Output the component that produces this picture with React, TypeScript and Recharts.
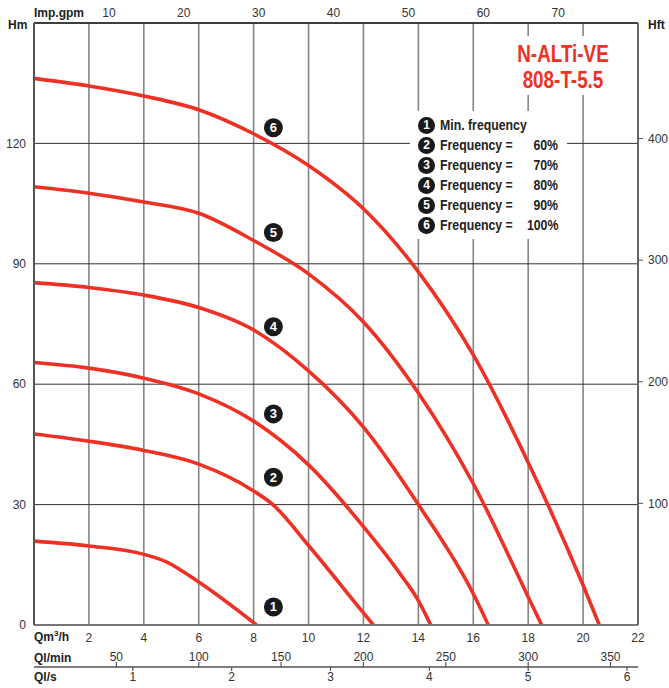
import { LineChart, Line, XAxis, YAxis, CartesianGrid, ReferenceDot } from 'recharts'

// flow (m3/h) and head (m)
const FLOW_1 = [0, 2, 4, 4.8, 6, 8.11]
const HEAD_1 = [20.9, 19.7, 17.6, 15.8, 10.7, 0]
const FLOW_2 = [0, 2, 4, 6, 8, 8.7, 10, 12, 12.36]
const HEAD_2 = [47.6, 45.8, 43.5, 40.1, 33.4, 30, 19.8, 3, 0]
const FLOW_3 = [0, 2, 4, 6, 8, 10, 12, 13.33, 14, 14.45]
const HEAD_3 = [65.4, 64, 61.5, 57.6, 50.8, 39.9, 24.5, 12.8, 6.1, 0]
const FLOW_4 = [0, 2, 4, 6, 8, 10, 12, 14, 16, 16.55]
const HEAD_4 = [85.3, 84.1, 82.2, 79.1, 73.5, 63.3, 49.3, 30, 7.8, 0]
const FLOW_5 = [0, 2, 4, 6, 8, 10, 12, 14, 16, 18, 18.49]
const HEAD_5 = [109.2, 107.6, 105.4, 102.6, 95.8, 87.5, 75.5, 57.8, 35.2, 7, 0]
const FLOW_6 = [0, 2, 4, 6, 8, 10, 12, 14, 16, 18, 20, 20.59]
const HEAD_6 = [136.2, 134.3, 131.8, 128.4, 122.4, 114.5, 103.7, 88, 67.3, 40.5, 9.9, 0]

const CURVES = [
  [FLOW_1, HEAD_1],
  [FLOW_2, HEAD_2],
  [FLOW_3, HEAD_3],
  [FLOW_4, HEAD_4],
  [FLOW_5, HEAD_5],
  [FLOW_6, HEAD_6],
]

// curve number badges
const BADGE_FLOW = 8.72
const BADGE_HEAD = [4.5, 36.8, 52.6, 74.3, 97.8, 123.9]

const LEGEND_LABELS = ['Min. frequency', 'Frequency =', 'Frequency =', 'Frequency =', 'Frequency =', 'Frequency =']
const LEGEND_PCT = ['', '60%', '70%', '80%', '90%', '100%']

const M3H_TICKS = [2, 4, 6, 8, 10, 12, 14, 16, 18, 20, 22]
const HM_TICKS = [0, 30, 60, 90, 120]
const HFT_TICKS = [100, 200, 300, 400]
const GPM_TICKS = [10, 20, 30, 40, 50, 60, 70]
const LMIN_TICKS = [50, 100, 150, 200, 250, 300, 350]
const LS_TICKS = [1, 2, 3, 4, 5, 6]

const Q_MAX = 22
const H_MAX = 150
const HFT_MAX = 495
const GPM_PER_M3H = 3.6662
const LMIN_PER_M3H = 1000 / 60
const LS_PER_M3H = 1 / 3.6

const RED = '#ee3124'
const SANS = '"Liberation Sans", Arial, sans-serif'
const tickStyle = { fontSize: 12, fontFamily: SANS, fill: '#333' }
const condensed = (origin: string) => ({ display: 'inline-block', transform: 'scaleX(0.82)', transformOrigin: origin })

const LminTick = (props: any) => {
  const { x, y, payload } = props
  return (
    <g>
      <text x={x} y={y + 10} textAnchor="middle" dominantBaseline="central" style={tickStyle}>
        {Math.round(payload.value * LMIN_PER_M3H)}
      </text>
      <line x1={x} x2={x} y1={y + 15} y2={y + 20} stroke="#555" strokeWidth={1.2} />
    </g>
  )
}

const LsTick = (props: any) => {
  const { x, y, payload } = props
  return (
    <g>
      <line x1={x} x2={x} y1={y} y2={y + 4} stroke="#555" strokeWidth={1.2} />
      <text x={x} y={y + 10} textAnchor="middle" dominantBaseline="central" style={tickStyle}>
        {Math.round(payload.value * LS_PER_M3H)}
      </text>
    </g>
  )
}

const Badge = (n: number) => (props: any) => (
  <g>
    <circle cx={props.cx} cy={props.cy} r={9.5} fill="#1a1a1a" />
    <text
      x={props.cx}
      y={props.cy}
      textAnchor="middle"
      dominantBaseline="central"
      style={{ fontSize: 13, fontWeight: 700, fontFamily: SANS, fill: '#fff' }}
    >
      {n}
    </text>
  </g>
)

const title = (text: any, left: number, top: number) => (
  <div
    style={{
      position: 'absolute', left, top, lineHeight: '14px', fontSize: 12,
      fontWeight: 700, fontFamily: SANS, color: '#222', whiteSpace: 'nowrap',
    }}
  >
    {text}
  </div>
)

export default function App() {
  const series = CURVES.map(([q, h]) => q.map((v, i) => ({ q: v, h: h[i] })))

  return (
    <div style={{ position: 'absolute', left: 0, top: 0, width: 669, height: 688, background: '#fff' }}>
      <LineChart width={669} height={688} data={series[5]} margin={{ top: 0, right: 0, bottom: 0, left: 0 }}>
        <CartesianGrid horizontal={false} stroke="#858585" strokeWidth={1.6} />
        <CartesianGrid vertical={false} stroke="#333" strokeWidth={1} />
        <XAxis
          type="number"
          dataKey="q"
          domain={[0, Q_MAX]}
          ticks={M3H_TICKS}
          allowDataOverflow
          height={22}
          tickLine={false}
          tickSize={5}
          tickMargin={3}
          axisLine={{ stroke: '#777', strokeWidth: 2 }}
          tick={tickStyle}
        />
        <XAxis
          xAxisId="lmin"
          type="number"
          dataKey="q"
          domain={[0, Q_MAX]}
          ticks={LMIN_TICKS.map((v) => v / LMIN_PER_M3H)}
          allowDataOverflow
          height={20}
          axisLine={false}
          tickLine={false}
          tickSize={0}
          tickMargin={0}
          interval={0}
          tick={<LminTick />}
        />
        <XAxis
          xAxisId="ls"
          type="number"
          dataKey="q"
          domain={[0, Q_MAX]}
          ticks={LS_TICKS.map((v) => v / LS_PER_M3H)}
          allowDataOverflow
          height={21}
          axisLine={{ stroke: '#555', strokeWidth: 1.5 }}
          tickLine={false}
          tickSize={0}
          tickMargin={0}
          interval={0}
          tick={<LsTick />}
        />
        <XAxis
          xAxisId="gpm"
          orientation="top"
          type="number"
          dataKey="q"
          domain={[0, Q_MAX]}
          ticks={GPM_TICKS.map((v) => v / GPM_PER_M3H)}
          tickFormatter={(v: number) => String(Math.round(v * GPM_PER_M3H))}
          allowDataOverflow
          height={23}
          tickLine={false}
          tickSize={3}
          tickMargin={3}
          interval={0}
          axisLine={{ stroke: '#222', strokeWidth: 1.5 }}
          tick={tickStyle}
        />
        <YAxis
          type="number"
          domain={[0, H_MAX]}
          ticks={HM_TICKS}
          allowDataOverflow
          width={34}
          tickLine={false}
          tickSize={4}
          tickMargin={4}
          axisLine={{ stroke: '#555', strokeWidth: 2 }}
          tick={tickStyle}
        />
        <YAxis
          yAxisId="ft"
          orientation="right"
          type="number"
          domain={[0, HFT_MAX]}
          ticks={HFT_TICKS}
          allowDataOverflow
          width={31}
          tickSize={5}
          tickMargin={5}
          tickLine={{ stroke: '#555' }}
          axisLine={{ stroke: '#666', strokeWidth: 2 }}
          tick={tickStyle}
        />
        {series.map((d, i) => (
          <Line
            key={i}
            data={d}
            dataKey="h"
            type="monotone"
            stroke={RED}
            strokeWidth={3.6}
            dot={false}
            isAnimationActive={false}
          />
        ))}
        {BADGE_HEAD.map((h, i) => (
          <ReferenceDot key={i} x={BADGE_FLOW} y={h} r={9.5} shape={Badge(i + 1)} />
        ))}
      </LineChart>

      {title('Hm', 8, 17.5)}
      {title('Imp.gpm', 34, 5.5)}
      {title('Hft', 648, 18)}
      {title(<span>Qm<sup style={{ fontSize: 8, verticalAlign: 'top', lineHeight: '8px' }}>3</sup>/h</span>, 34, 630)}
      {title('Ql/min', 34, 651)}
      {title('Ql/s', 34, 669.7)}

      <div
        style={{
          position: 'absolute', left: 505, top: 36, width: 116, height: 59, background: '#fff',
          color: RED, fontFamily: SANS, fontWeight: 700, fontSize: 23, lineHeight: '26px',
          textAlign: 'center', paddingTop: 4.5, boxSizing: 'border-box', whiteSpace: 'nowrap',
        }}
      >
        <div style={{ transform: 'scaleX(0.82)' }}>N-ALTi-VE</div>
        <div style={{ transform: 'scaleX(0.82)' }}>808-T-5.5</div>
      </div>

      <div style={{ position: 'absolute', left: 410, top: 111, width: 157, height: 128, background: '#fff' }}>
        {LEGEND_LABELS.map((label, i) => (
          <div
            key={i}
            style={{
              position: 'absolute', left: 0, top: 4.3 + 20 * i, width: 157, height: 20,
              fontFamily: SANS, fontWeight: 700, fontSize: 15,
              lineHeight: '20px', color: '#222', whiteSpace: 'nowrap',
            }}
          >
            <span
              style={{
                position: 'absolute', left: 8.4, top: 1.7, width: 16.6, height: 16.6, borderRadius: '50%',
                background: '#1a1a1a', color: '#fff', fontSize: 12, lineHeight: '16.6px', textAlign: 'center',
              }}
            >
              {i + 1}
            </span>
            <span style={{ position: 'absolute', left: 30, top: 0 }}>
              <span style={condensed('left center')}>{label}</span>
            </span>
            {LEGEND_PCT[i] && (
              <span style={{ position: 'absolute', right: 9, top: 0, textAlign: 'right' }}>
                <span style={condensed('right center')}>{LEGEND_PCT[i]}</span>
              </span>
            )}
          </div>
        ))}
      </div>
    </div>
  )
}
